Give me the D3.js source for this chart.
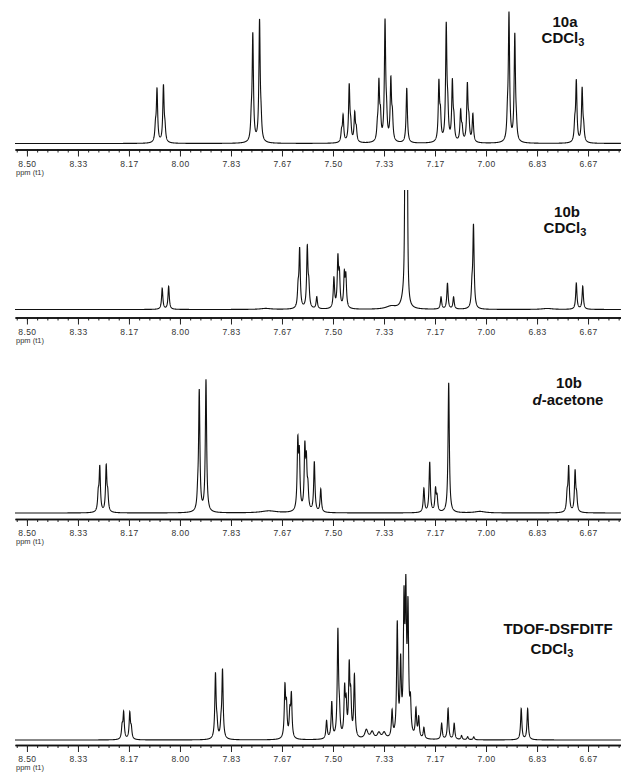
<!DOCTYPE html>
<html>
<head>
<meta charset="utf-8">
<script src="https://cdn.jsdelivr.net/npm/d3@7/dist/d3.min.js"></script>
<style>
  body { margin: 0; background: #fff; }
  svg { display: block; font-family: "Liberation Sans", Arial, sans-serif; }
</style>
</head>
<body>
<script>
// peak lists: [ppm, intensity, half width (optional)]
var peaks10a = [
  [8.080, 14], [8.075, 52], [8.054, 56], [8.049, 12],
  [7.767, 18], [7.762, 106], [7.740, 120], [7.735, 16],
  [7.472, 10], [7.467, 26], [7.447, 56], [7.442, 14], [7.429, 28], [7.424, 12],
  [7.355, 12], [7.350, 56], [7.345, 22], [7.330, 118], [7.325, 20], [7.311, 60], [7.306, 22],
  [7.259, 55],
  [7.154, 58], [7.149, 24], [7.130, 114], [7.125, 26], [7.110, 58], [7.105, 18],
  [7.083, 30], [7.078, 12], [7.061, 56], [7.056, 18], [7.043, 28],
  [6.930, 20], [6.925, 126], [6.906, 106], [6.901, 12],
  [6.710, 16], [6.705, 60], [6.686, 53], [6.681, 12]
]

var peaks10bCDCl3 = [
  [8.058, 21], [8.037, 23],
  [7.72, 1, 0.02],
  [7.614, 18], [7.609, 58], [7.584, 60], [7.579, 20],
  [7.553, 12],
  [7.497, 30], [7.484, 48], [7.479, 30], [7.463, 32], [7.458, 30],
  [7.31, 3, 0.02],
  [7.270, 8, 0.008], [7.264, 300, 0.0015], [7.258, 300, 0.0015],
  [7.147, 12], [7.126, 26], [7.106, 12],
  [7.046, 18], [7.041, 82],
  [6.80, 1, 0.02],
  [6.705, 26], [6.684, 23]
]

var peaks10bAcetone = [
  [8.267, 16], [8.262, 44], [8.241, 45], [8.236, 16],
  [7.942, 12], [7.937, 120], [7.915, 132],
  [7.71, 2, 0.03],
  [7.615, 66], [7.610, 52], [7.592, 60], [7.587, 44], [7.582, 20],
  [7.561, 50], [7.540, 23],
  [7.203, 24], [7.184, 50], [7.165, 22], [7.160, 14],
  [7.122, 130],
  [7.02, 1.5, 0.02],
  [6.735, 16], [6.730, 44], [6.709, 40], [6.704, 14]
]

var peaksTdof = [
  [8.189, 12], [8.184, 26], [8.164, 26], [8.159, 10],
  [7.884, 64], [7.879, 12], [7.866, 12], [7.861, 68],
  [7.657, 50], [7.652, 30], [7.641, 24], [7.636, 42],
  [7.521, 18], [7.504, 36], [7.484, 106], [7.479, 20],
  [7.462, 46], [7.457, 30], [7.447, 68], [7.442, 36], [7.430, 62],
  [7.391, 9, 0.006], [7.372, 7, 0.006], [7.350, 6, 0.006], [7.333, 6, 0.006],
  [7.307, 26], [7.290, 112], [7.279, 70], [7.268, 125], [7.262, 130],
  [7.255, 120], [7.247, 30], [7.229, 28], [7.220, 20], [7.203, 11],
  [7.145, 16], [7.124, 31], [7.104, 16], [7.080, 4], [7.060, 3], [7.040, 3],
  [6.885, 31], [6.864, 31]
]

var majorTicks = [8.5, 8.3333, 8.1667, 8.0, 7.8333, 7.6667, 7.5, 7.3333, 7.1667, 7.0, 6.8333, 6.6667]

var panels = [
  { peaks: peaks10a, axisY: 149.5, base: 6, top: 0, lines: [["10a"], ["CDCl", "3"]], labelX: [565, 563], labelY: [27, 43], size: 15 },
  { peaks: peaks10bCDCl3, axisY: 317.5, base: 8, top: 190, lines: [["10b"], ["CDCl", "3"]], labelX: [567, 565], labelY: [217, 233], size: 15 },
  { peaks: peaks10bAcetone, axisY: 519, base: 6, top: 360, lines: [["10b"], ["d", "-acetone"]], labelX: [569, 568], labelY: [388, 405], size: 15 },
  { peaks: peaksTdof, axisY: 745, base: 5, top: 560, lines: [["TDOF-DSFDITF"], ["CDCl", "3"]], labelX: [558, 552], labelY: [634, 654], size: 15 }
]

var width = 621, height = 772
var svg = d3.select("body").append("svg")
  .attr("width", width)
  .attr("height", height)

var x = d3.scaleLinear()
  .domain([8.539, 6.559])
  .range([15, 621])

var minorTicks = d3.range(-1, 60).map(i => 8.5 - i / 30).filter(v => v > 6.56 && v < 8.54)

var gamma = 0.0025
var grid = d3.range(8.539, 6.559, -0.0003)

panels.forEach((p, i) => {
  var baseY = p.axisY - p.base
  var y = d3.scaleLinear().domain([0, 100]).range([baseY, baseY - 100])

  var trace = grid.map(ppm => {
    var s = 0
    p.peaks.forEach(pk => {
      var g = pk[2] || gamma
      var dx = ppm - pk[0]
      s += pk[1] * g * g / (dx * dx + g * g)
    })
    return [ppm, s]
  })

  svg.append("clipPath").attr("id", "clip" + i)
    .append("rect")
    .attr("x", 15).attr("y", p.top)
    .attr("width", 606).attr("height", baseY - p.top + 5)

  var line = d3.line()
    .x(d => x(d[0]))
    .y(d => y(d[1]))

  svg.append("path")
    .datum(trace)
    .attr("clip-path", "url(#clip" + i + ")")
    .attr("fill", "none")
    .attr("stroke", "#111")
    .attr("stroke-width", 1.1)
    .attr("d", line)

  // axis with major and minor ticks
  var axisG = svg.append("g")
    .attr("transform", "translate(0," + p.axisY + ")")

  axisG.append("g")
    .call(d3.axisBottom(x).tickValues(minorTicks).tickSize(3).tickSizeOuter(0).tickFormat(""))

  axisG.append("g")
    .call(d3.axisBottom(x).tickValues(majorTicks).tickSize(7).tickSizeOuter(0)
      .tickPadding(4).tickFormat(d3.format(".2f")))

  axisG.selectAll(".domain").attr("stroke", "#111").attr("stroke-width", 1.6)
  axisG.selectAll(".tick line").attr("stroke", "#222")
  axisG.selectAll(".tick text")
    .attr("fill", "#333")
    .style("font-size", "8.5px")
    .style("letter-spacing", "0.4px")
    .style("font-family", "Liberation Sans, Arial, sans-serif")

  axisG.append("text")
    .attr("x", 16)
    .attr("y", 25)
    .attr("fill", "#333")
    .style("font-size", "7.5px")
    .text("ppm (t1)")

  // sample / solvent label
  p.lines.forEach((parts, j) => {
    var t = svg.append("text")
      .attr("x", p.labelX[j])
      .attr("y", p.labelY[j])
      .attr("text-anchor", "middle")
      .style("font-size", p.size + "px")
      .style("font-weight", "bold")
      .attr("fill", "#111")
    if (parts[0] === "d") {
      t.append("tspan").style("font-style", "italic").text("d")
      t.append("tspan").text(parts[1])
    } else {
      t.append("tspan").text(parts[0])
      if (parts[1]) {
        t.append("tspan")
          .attr("dy", 3)
          .style("font-size", (p.size - 4) + "px")
          .text(parts[1])
      }
    }
  })
})
</script>
</body>
</html>
